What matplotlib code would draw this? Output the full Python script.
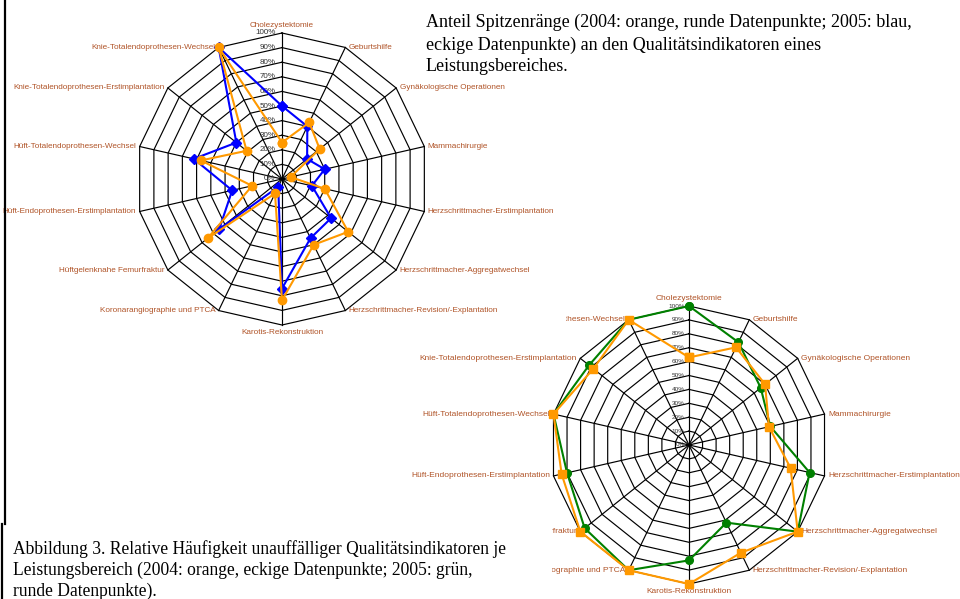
import numpy as np
import matplotlib.pyplot as plt
from matplotlib.lines import Line2D

W, H = 960, 599

categories = [
    'Cholezystektomie', 'Geburtshilfe', 'Gynäkologische Operationen',
    'Mammachirurgie', 'Herzschrittmacher-Erstimplantation',
    'Herzschrittmacher-Aggregatwechsel',
    'Herzschrittmacher-Revision/-Explantation', 'Karotis-Rekonstruktion',
    'Koronarangiographie und PTCA', 'Hüftgelenknahe Femurfraktur',
    'Hüft-Endoprothesen-Erstimplantation', 'Hüft-Totalendoprothesen-Wechsel',
    'Knie-Totalendoprothesen-Erstimplantation',
    'Knie-Totalendoprothesen-Wechsel',
]
levels = [0, 10, 20, 30, 40, 50, 60, 70, 80, 90, 100]

# Anteil Spitzenränge (%)
spitze_2004 = [25, 43, 33, 6, 30, 58, 50, 83, 11, 65, 21, 57, 31, 100]
spitze_2005 = [50, 40, 22, 30, 21, 43, 45, 75, 6, 55, 35, 62, 40, 100]

# Relative Häufigkeit unauffälliger Qualitätsindikatoren (%)
unauff_2004 = [63, 78, 70, 59, 75, 100, 86, 100, 100, 100, 94, 100, 88, 100]
unauff_2005 = [100, 82, 66, 60, 89, 100, 62, 83, 100, 96, 90, 100, 92, 100]

LABEL_COLOR = '#B05428'
plt.rcParams['font.family'] = ['Liberation Sans', 'DejaVu Sans']


def px_rect(x0, y0, x1, y1):
    # pixel box (top-left origin) -> figure fraction
    return [x0 / W, 1 - y1 / H, (x1 - x0) / W, (y1 - y0) / H]


def radar(fig, cx, cy, r, label_size, tick_size, tick_off):
    ax = fig.add_axes(px_rect(cx - r, cy - r, cx + r, cy + r), projection='polar')
    ax.set_theta_zero_location('N')
    ax.set_theta_direction(-1)
    ax.set_ylim(0, 100)
    ax.grid(False)
    ax.set_xticks([])
    ax.set_yticks([])
    ax.spines['polar'].set_visible(False)
    ax.patch.set_alpha(0)

    theta = np.linspace(0, 2 * np.pi, len(categories), endpoint=False)
    closed = np.append(theta, theta[0])
    for lev in levels[1:]:
        ax.plot(closed, [lev] * len(closed), color='black', lw=0.85, clip_on=False, zorder=1)
    for t in theta:
        ax.plot([t, t], [0, 100], color='black', lw=0.85, clip_on=False, zorder=1)

    for t, name in zip(theta, categories):
        s, c = np.sin(t), np.cos(t)
        if abs(s) < 1e-6:
            ha, va, off = 'center', ('bottom' if c > 0 else 'top'), (0, 3 * np.sign(c))
        else:
            ha, va, off = ('left' if s > 0 else 'right'), 'center', (2.5 * np.sign(s), 0)
        ax.annotate(name, xy=(t, 100), xytext=off, textcoords='offset points',
                    ha=ha, va=va, fontsize=label_size, color=LABEL_COLOR,
                    annotation_clip=False)

    for lev in levels:
        ax.annotate(f'{lev}%', xy=(0, lev), xytext=(tick_off, 0),
                    textcoords='offset points', ha='right', va='center',
                    fontsize=tick_size, color='#333333', annotation_clip=False)
    return ax, closed


def close(vals):
    return list(vals) + [vals[0]]


fig = plt.figure(figsize=(W / 100, H / 100), dpi=100)
fig.patch.set_facecolor('white')

# unteres Netzdiagramm
ax2, th2 = radar(fig, 689, 445, 139, 6.0, 4.6, -3)
ax2.set_zorder(1)
ax2.plot(th2, close(unauff_2005), color='#008000', lw=1.5, marker='o',
         markersize=5.5, clip_on=False, zorder=3)
ax2.plot(th2, close(unauff_2004), color='#FF9900', lw=1.5, marker='s',
         markersize=6, clip_on=False, zorder=4)

# weisser Hintergrund des oberen Diagramms
bg = fig.add_axes(px_rect(5, 0, 566, 353))
bg.set_facecolor('white')
bg.set_xticks([])
bg.set_yticks([])
for sp in bg.spines.values():
    sp.set_visible(False)
bg.set_zorder(2)

# oberes Netzdiagramm
ax1, th1 = radar(fig, 282, 179, 146, 5.9, 5.8, -4.5)
ax1.set_zorder(3)
ax1.plot(th1, close(spitze_2005), color='#0000FF', lw=1.5, marker='D',
         markersize=5, clip_on=False, zorder=3)
ax1.plot(th1, close(spitze_2004), color='#FF9900', lw=1.5, marker='o',
         markersize=6, clip_on=False, zorder=4)

fig.text(426 / W, 1 - 14 / H,
         'Anteil Spitzenränge (2004: orange, runde Datenpunkte; 2005: blau,\n'
         'eckige Datenpunkte) an den Qualitätsindikatoren eines\n'
         'Leistungsbereiches.',
         family='Liberation Serif', fontsize=13, ha='left', va='top',
         linespacing=1.37, zorder=5)

fig.text(13 / W, 1 - 540 / H,
         'Abbildung 3. Relative Häufigkeit unauffälliger Qualitätsindikatoren je\n'
         'Leistungsbereich (2004: orange, eckige Datenpunkte; 2005: grün,\n'
         'runde Datenpunkte).',
         family='Liberation Serif', fontsize=12.65, ha='left', va='top',
         linespacing=1.3, zorder=5)

# weisser Kasten um die Bildunterschrift
box = fig.add_axes(px_rect(5, 524, 552, 599))
box.set_facecolor('white')
box.set_xticks([])
box.set_yticks([])
for sp in box.spines.values():
    sp.set_visible(False)
box.set_zorder(4)

fig.add_artist(Line2D([5 / W, 5 / W], [1, 1 - 524 / H], color='black', lw=1.6, zorder=6))
fig.add_artist(Line2D([1.5 / W, 1.5 / W], [1 - 524 / H, 0], color='black', lw=1.6, zorder=6))

fig.savefig('out.png', dpi=100, facecolor='white')
